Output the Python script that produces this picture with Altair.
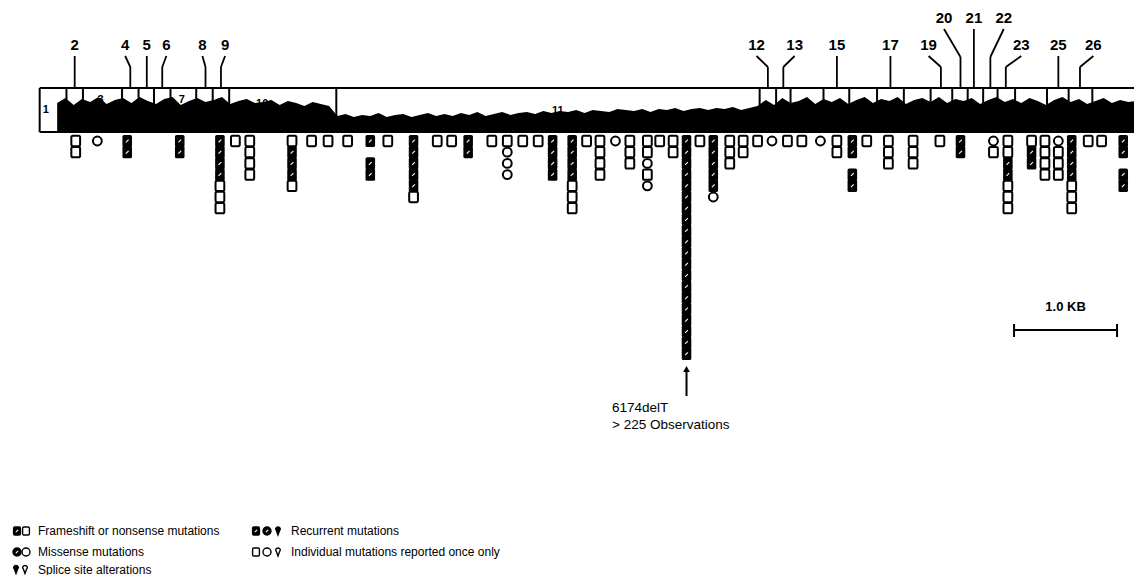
import altair as alt
import pandas as pd

# ------------------------------------------------------------------
# DATA -- positions along the BRCA2 cDNA in kb
# ------------------------------------------------------------------
exon_bounds_kb = [-0.11, 0.15, 0.31, 0.69, 0.85, 1.00, 1.16, 1.41, 1.57, 1.73, 2.77,
                  6.88, 7.04, 7.18, 7.50, 7.75, 8.02, 8.28, 8.54, 8.75, 8.90, 9.05,
                  9.19, 9.36, 9.67, 9.88, 10.11]

label_text = ["2", "4", "5", "6", "8", "9", "12", "13", "15", "17", "19",
              "20", "21", "22", "23", "25", "26"]
label_kb = [0.23, 0.72, 0.93, 1.12, 1.47, 1.69, 6.85, 7.22, 7.63, 8.15, 8.52,
            8.67, 8.96, 9.25, 9.42, 9.78, 10.12]
label_exon_kb = [0.23, 0.77, 0.93, 1.08, 1.50, 1.65, 6.96, 7.11, 7.63, 8.15, 8.64,
                 8.83, 8.96, 9.12, 9.27, 9.78, 9.99]
label_upper = [0, 0, 0, 0, 0, 0, 0, 0, 0, 0, 0, 1, 1, 1, 0, 0, 0]

inner_text = ["1", "3", "7", "10", "11", "14", "27"]
inner_kb = [-0.05, 0.48, 1.27, 2.05, 4.92, 7.30, 10.41]

# sequence-density trace drawn inside the gene box (height units)
trace_start_kb, trace_step_kb = 0.06, 0.08
trace_height = [
    29, 34, 27, 33, 30, 35, 28, 32, 34, 29, 35, 31, 28, 33, 35, 27, 31, 34, 30, 32,
    35, 28, 31, 33, 29, 30, 32, 27, 31, 29, 26, 30, 28, 26,
    16, 18, 15, 17, 16, 19, 15, 17, 18, 15, 17, 19, 16, 18, 16, 19, 17, 20, 16, 18,
    20, 17, 19, 20, 18, 21, 19, 21, 20, 22, 19, 22, 21, 20, 23, 22, 21, 23, 20, 23,
    22, 24, 21, 23, 24, 22, 24, 23, 25, 22, 24, 26,
    32, 27, 34, 29, 31, 35, 28, 33, 30, 34, 28, 32, 35, 29, 33, 31, 35, 28, 32, 34,
    30, 35, 29, 33, 31, 34, 28, 32, 35, 30, 33, 29, 34, 31, 27, 32, 35, 30, 33, 28,
    31, 34, 29, 32, 30, 31]

# mutation columns: position (kb) and stacked observations, top to bottom
# F = recurrent frameshift/nonsense, S = single frameshift/nonsense,
# C = single missense, "." = empty slot
mut_kb = [0.24, 0.45, 0.74, 1.25, 1.64, 1.79, 1.93, 2.34, 2.53, 2.69, 2.88, 3.10,
          3.27, 3.52, 3.75, 3.89, 4.05, 4.28, 4.43, 4.58, 4.73, 4.87, 5.06, 5.20,
          5.33, 5.48, 5.62, 5.79, 5.91, 6.04, 6.17, 6.30, 6.43, 6.59, 6.72, 6.86,
          7.00, 7.15, 7.29, 7.47, 7.63, 7.78, 7.92, 8.13, 8.37, 8.63, 8.83, 9.15,
          9.29, 9.52, 9.65, 9.78, 9.91, 10.07, 10.20, 10.41]
mut_stack = ["SS", "C", "FF", "FF", "FFFFSSS", "S", "SSSS", "SFFFS", "S", "S", "S", "F.FF",
             "S", "FFFFFS", "S", "S", "FF", "S", "SCCC", "S", "S", "FFFF", "FFFFSSS", "S",
             "SSSS", "C", "SSS", "SSCSC", "S", "SS", "FFFFFFFFFFFFFFFFFFFF", "S", "FFFFFC", "SSS", "SS", "S",
             "C", "S", "S", "C", "SS", "FF.FF", "S", "SSS", "SSS", "S", "FF", "CS",
             "SSFFSSS", "SFF", "SSSS", "CSSS", "FFFFSSS", "S", "S", "FF.FF"]

legend_left = ["Frameshift or nonsense mutations", "Missense mutations", "Splice site alterations"]
legend_right = ["Recurrent mutations", "Individual mutations reported once only"]
arrow_kb = 6.17
arrow_text = ["6174delT", "> 225 Observations"]
scalebar_kb = [9.35, 10.35]
scalebar_text = "1.0 KB"

# ------------------------------------------------------------------
# LAYOUT
# ------------------------------------------------------------------
W, H, M = 1126, 567, 8          # plot size, page margin
PX0, PX_PER_KB = 51.0, 103.0    # figure calibration: pixel of 0 kb, pixels per kb


def px2kb(px):
    return (px - PX0) / PX_PER_KB


BOX_TOP, BOX_BOT = 88, 132
ROW0, ROW_STEP = 141, 11.2
TIER_Y = {0: 45, 1: 18}
LEAD_TOP = {0: 56, 1: 29}
LEAD_BEND = {0: 67, 1: 57}
FONT = "Liberation Sans"

xs = alt.Scale(domain=[px2kb(M), px2kb(M + W)], nice=False, zero=False)
ys = alt.Scale(domain=[M, M + H], reverse=True, nice=False, zero=False)


def X(f):
    return alt.X(f, type="quantitative", scale=xs, axis=None)


def Y(f):
    return alt.Y(f, type="quantitative", scale=ys, axis=None)


right_kb = px2kb(M + W)

# gene box frame + exon boundaries
seg = [dict(x=exon_bounds_kb[0], x2=right_kb, y=BOX_TOP, y2=BOX_TOP),
       dict(x=exon_bounds_kb[0], x2=right_kb, y=BOX_BOT, y2=BOX_BOT)]
for b in exon_bounds_kb:
    seg.append(dict(x=b, x2=b, y=BOX_TOP, y2=BOX_BOT))
box_df = pd.DataFrame(seg)

# leader lines
lead = []
for t, lk, ek, up in zip(label_text, label_kb, label_exon_kb, label_upper):
    lead.append(dict(x=lk, x2=ek, y=LEAD_TOP[up], y2=LEAD_BEND[up]))
    lead.append(dict(x=ek, x2=ek, y=LEAD_BEND[up], y2=BOX_TOP))
lead_df = pd.DataFrame(lead)
lab_df = pd.DataFrame(dict(x=label_kb, y=[TIER_Y[u] for u in label_upper], t=label_text))

inner_y = [110, 100, 100, 104, 111, 110, 110]
inner_df = pd.DataFrame(dict(x=inner_kb, y=inner_y, t=inner_text))

wave_x = [trace_start_kb + i * trace_step_kb for i in range(len(trace_height))]
wave_df = pd.DataFrame(dict(x=wave_x, top=[BOX_BOT - h for h in trace_height],
                            bot=[BOX_BOT] * len(trace_height)))

rows = []
for k, s in zip(mut_kb, mut_stack):
    for i, c in enumerate(s):
        if c != ".":
            rows.append(dict(x=k, y=ROW0 + i * ROW_STEP, kind=c))
mut_df = pd.DataFrame(rows)

# symbol paths
OSQ = ("M -0.55,-1 L 0.55,-1 Q 0.85,-1 0.85,-0.7 L 0.85,0.7 Q 0.85,1 0.55,1 "
       "L -0.55,1 Q -0.85,1 -0.85,0.7 L -0.85,-0.7 Q -0.85,-1 -0.55,-1 Z")
FSQ = ("M -0.5,-1 L 0.5,-1 Q 0.78,-1 0.78,-0.75 L 0.78,0.75 Q 0.78,1 0.5,1 "
       "L -0.5,1 Q -0.78,1 -0.78,0.75 L -0.78,-0.75 Q -0.78,-1 -0.5,-1 Z")
HATCH = "M -0.5,0.5 L 0.5,-0.5"
PIN = "M 0,1 L -0.4,-0.1 C -0.75,-0.45 -0.55,-1 0,-1 C 0.55,-1 0.75,-0.45 0.4,-0.1 Z"

frame = alt.Chart(box_df).mark_rule(color="black", strokeWidth=2).encode(
    x=X("x"), x2="x2", y=Y("y"), y2="y2")
wave = alt.Chart(wave_df).mark_area(color="black", interpolate="linear").encode(
    x=X("x"), y=Y("top"), y2="bot")
leaders = alt.Chart(lead_df).mark_rule(color="black", strokeWidth=1.8).encode(
    x=X("x"), x2="x2", y=Y("y"), y2="y2")
labels = alt.Chart(lab_df).mark_text(font=FONT, fontSize=15, fontWeight="bold",
                                     align="center", baseline="middle",
                                     fill="black").encode(
    x=X("x"), y=Y("y"), text="t:N")
inner = alt.Chart(inner_df).mark_text(font=FONT, fontSize=11, fontWeight="bold",
                                      align="center", baseline="middle",
                                      fill="black").encode(
    x=X("x"), y=Y("y"), text="t:N")

fsq = alt.Chart(mut_df).transform_filter("datum.kind == 'F'").mark_point(
    shape=FSQ, filled=True, fill="black", size=150, opacity=1, strokeWidth=0).encode(
    x=X("x"), y=Y("y"))
hatch = alt.Chart(mut_df).transform_filter("datum.kind == 'F'").mark_point(
    shape=HATCH, filled=False, stroke="white", strokeWidth=1.1, size=30, opacity=1).encode(
    x=X("x"), y=Y("y"))
osq = alt.Chart(mut_df).transform_filter("datum.kind == 'S'").mark_point(
    shape=OSQ, filled=True, fill="white", stroke="black", strokeWidth=2, size=106,
    opacity=1).encode(x=X("x"), y=Y("y"))
circ = alt.Chart(mut_df).transform_filter("datum.kind == 'C'").mark_point(
    shape="circle", filled=True, fill="white", stroke="black", strokeWidth=2, size=78,
    opacity=1).encode(x=X("x"), y=Y("y"))

# arrow for 6174delT
arrow_df = pd.DataFrame([dict(x=arrow_kb, x2=arrow_kb, y=370, y2=396)])
arrow = alt.Chart(arrow_df).mark_rule(color="black", strokeWidth=2).encode(
    x=X("x"), x2="x2", y=Y("y"), y2="y2")
head = alt.Chart(pd.DataFrame([dict(x=arrow_kb, y=369)])).mark_point(
    shape="triangle-up", filled=True, fill="black", size=45, opacity=1).encode(
    x=X("x"), y=Y("y"))
atext = alt.Chart(pd.DataFrame(dict(x=[px2kb(612)] * 2, y=[408, 425], t=arrow_text))).mark_text(
    font=FONT, fontSize=13.5, align="left", baseline="middle", fill="black").encode(
    x=X("x"), y=Y("y"), text="t:N")

# scale bar
sb = [dict(x=scalebar_kb[0], x2=scalebar_kb[1], y=330, y2=330),
      dict(x=scalebar_kb[0], x2=scalebar_kb[0], y=324, y2=337),
      dict(x=scalebar_kb[1], x2=scalebar_kb[1], y=324, y2=337)]
sbar = alt.Chart(pd.DataFrame(sb)).mark_rule(color="black", strokeWidth=2).encode(
    x=X("x"), x2="x2", y=Y("y"), y2="y2")
sbtext = alt.Chart(pd.DataFrame([dict(x=sum(scalebar_kb) / 2, y=307, t=scalebar_text)])).mark_text(
    font=FONT, fontSize=13, fontWeight="bold", align="center", baseline="middle",
    fill="black").encode(x=X("x"), y=Y("y"), text="t:N")

# legend
LEG_Y = [531, 552, 569.5]
leg_txt = pd.DataFrame(dict(
    x=[px2kb(38)] * 3 + [px2kb(291)] * 2,
    y=LEG_Y + LEG_Y[:2],
    t=legend_left + legend_right))
legtext = alt.Chart(leg_txt).mark_text(font=FONT, fontSize=12, align="left",
                                       baseline="middle", fill="black").encode(
    x=X("x"), y=Y("y"), text="t:N")

leg_sym = pd.DataFrame([
    dict(x=px2kb(17), y=LEG_Y[0], shape="sq", fill="black"),
    dict(x=px2kb(26), y=LEG_Y[0], shape="sq", fill="white"),
    dict(x=px2kb(17), y=LEG_Y[1], shape="ci", fill="black"),
    dict(x=px2kb(26), y=LEG_Y[1], shape="ci", fill="white"),
    dict(x=px2kb(16), y=LEG_Y[2], shape="pin", fill="black"),
    dict(x=px2kb(25), y=LEG_Y[2], shape="pin", fill="white"),
    dict(x=px2kb(256), y=LEG_Y[0], shape="sq", fill="black"),
    dict(x=px2kb(267), y=LEG_Y[0], shape="ci", fill="black"),
    dict(x=px2kb(278), y=LEG_Y[0], shape="pin", fill="black"),
    dict(x=px2kb(256), y=LEG_Y[1], shape="sq", fill="white"),
    dict(x=px2kb(267), y=LEG_Y[1], shape="ci", fill="white"),
    dict(x=px2kb(278), y=LEG_Y[1], shape="pin", fill="white"),
])
shape_scale = alt.Scale(domain=["sq", "ci", "pin"], range=[OSQ, "circle", PIN])
legsym = alt.Chart(leg_sym).mark_point(filled=True, stroke="black", strokeWidth=1.4,
                                       size=64, opacity=1).encode(
    x=X("x"), y=Y("y"),
    shape=alt.Shape("shape:N", scale=shape_scale, legend=None),
    fill=alt.Fill("fill:N", scale=None))
leghatch = alt.Chart(leg_sym).transform_filter(
    "datum.fill == 'black' && datum.shape != 'pin'").mark_point(
    shape=HATCH, filled=False, stroke="white", strokeWidth=1.1, size=22, opacity=1).encode(
    x=X("x"), y=Y("y"))

chart = alt.layer(
    wave, frame, inner, leaders, labels, osq, circ, fsq, hatch,
    arrow, head, atext, sbar, sbtext, legsym, leghatch, legtext
).properties(
    width=W, height=H, padding=0,
    autosize=alt.AutoSizeParams(type="none"),
    background="white"
).configure_view(stroke=None)

chart.save("out.html", embed_options={"renderer": "svg", "actions": False})
